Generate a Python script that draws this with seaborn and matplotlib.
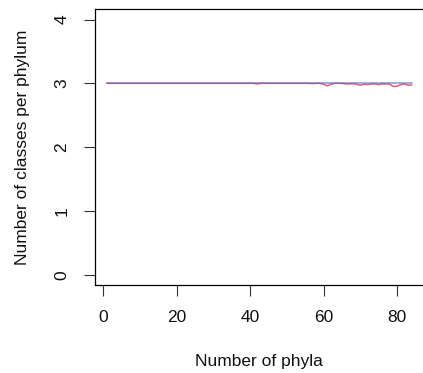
import numpy as np
import pandas as pd
import matplotlib
matplotlib.use("Agg")
import matplotlib.pyplot as plt
import seaborn as sns

# Data
phyla = list(range(1, 85))
observed = [3.0] * 41 + [2.99] + [3.0] * 14 + [2.995, 3.0, 3.0,
            2.985, 2.96, 2.985, 3.0, 3.0, 3.0,
            2.99, 2.99, 2.995, 2.985, 2.97, 2.985, 2.98, 2.99, 2.99,
            2.98, 2.99, 2.99, 2.985, 2.95, 2.955, 2.98, 2.99, 2.97, 2.975]
expected = [3.0] * 84
x_ticks = [0, 20, 40, 60, 80]
y_ticks = [0, 1, 2, 3, 4]

sns.set_style("ticks")
plt.rcParams['font.family'] = ['Liberation Sans', 'DejaVu Sans']
plt.rcParams['text.color'] = 'black'
plt.rcParams['axes.labelcolor'] = 'black'
plt.rcParams['xtick.color'] = 'black'
plt.rcParams['ytick.color'] = 'black'

df = pd.DataFrame({"phyla": phyla, "observed": observed, "expected": expected})

fig = plt.figure(figsize=(4.23, 3.73), dpi=100)
W, H = 423, 373
left_px, right_px, top_px, bot_px = 94.5, 424.0, 9.3, 285.0
ax = fig.add_axes([left_px / W, 1 - bot_px / H, (right_px - left_px) / W, (bot_px - top_px) / H])

sns.lineplot(data=df, x="phyla", y="observed", ax=ax, color="#e8457a", lw=1.1, alpha=0.9)
sns.lineplot(data=df, x="phyla", y="expected", ax=ax, color="#4f6fb8", lw=1.3, alpha=0.6)

ax.set_xlim(-2.32, 87.32)
ax.set_ylim(-0.16, 4.16)
ax.set_xticks(x_ticks)
ax.set_yticks(y_ticks)
ax.set_yticklabels([str(v) for v in y_ticks], rotation=90, va="center")
ax.tick_params(axis="both", length=8, width=0.8, color="#333333", labelcolor="#111111",
               labelsize=12.5, pad=10)
ax.set_xlabel("Number of phyla", fontsize=12.5, labelpad=21, color="#111111")
ax.set_ylabel("Number of classes per phylum", fontsize=12.5, labelpad=18, color="#111111")
for s in ["left", "bottom", "top"]:
    ax.spines[s].set_visible(True)
    ax.spines[s].set_color("black")
    ax.spines[s].set_linewidth(0.9)
ax.spines["right"].set_visible(False)

fig.savefig("out.png", dpi=100)
